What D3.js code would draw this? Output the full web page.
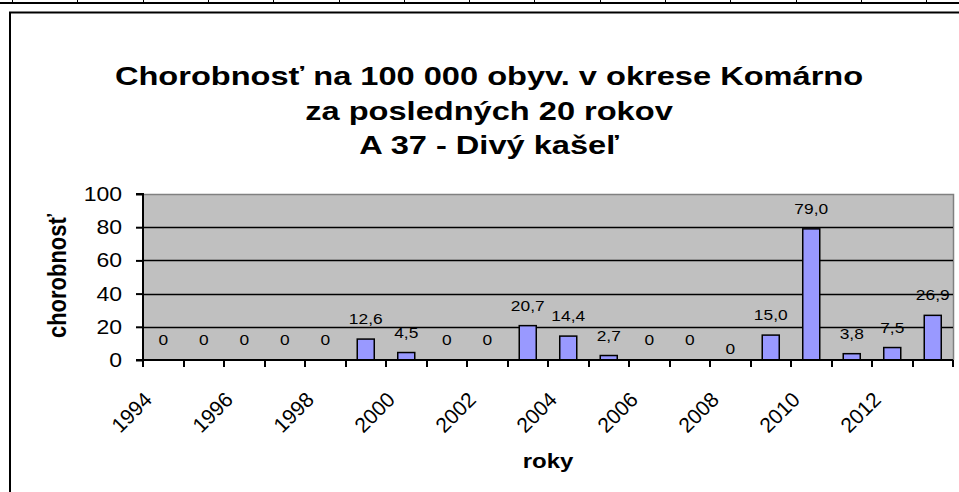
<!DOCTYPE html>
<html>
<head>
<meta charset="utf-8">
<script src="https://cdn.jsdelivr.net/npm/d3@7"></script>
<style>
  html, body { margin: 0; padding: 0; background: #fff; }
  svg { display: block; font-family: "Liberation Sans", Arial, sans-serif; }
</style>
</head>
<body>
<div id="chart"></div>
<script>
"use strict";

// data
var years = ["1994", "1995", "1996", "1997", "1998", "1999", "2000", "2001", "2002", "2003",
  "2004", "2005", "2006", "2007", "2008", "2009", "2010", "2011", "2012", "2013"];
var values = [0, 0, 0, 0, 0, 12.6, 4.5, 0, 0, 20.7, 14.4, 2.7, 0, 0, 0, 15.0, 79.0, 3.8, 7.5, 26.9];
var yTicks = [0, 20, 40, 60, 80, 100];
var titleLines = ["Chorobnosť na 100 000 obyv. v okrese Komárno", "za posledných 20 rokov", "A 37 - Divý kašeľ"];
var xTitle = "roky";
var yTitle = "chorobnosť";

var width = 959, height = 492;
var plot = { left: 143, right: 953, top: 194, bottom: 360 };
var SX = 1.2; // the source picture is stretched sideways

var svg = d3.select("#chart").append("svg")
  .attr("width", width)
  .attr("height", height);

function place(x, y, rot, sx) {
  return "translate(" + x + "," + y + ") scale(" + (sx || SX) + ",1)" + (rot ? " rotate(" + rot + ")" : "");
}

// spreadsheet cell lines peeking above the chart
svg.append("line")
  .attr("x1", 0).attr("x2", width).attr("y1", 3).attr("y2", 3)
  .attr("stroke", "#000").attr("stroke-width", 2);
svg.selectAll(".cell")
  .data(d3.range(12, width, 65.3))
  .join("line")
  .attr("class", "cell")
  .attr("x1", function (d) { return Math.round(d) + 0.5; })
  .attr("x2", function (d) { return Math.round(d) + 0.5; })
  .attr("y1", 0).attr("y2", 3)
  .attr("stroke", "#000");

// chart frame (runs off the right and bottom)
svg.append("path")
  .attr("d", "M10,492 V12.5 H959")
  .attr("fill", "none")
  .attr("stroke", "#000")
  .attr("stroke-width", 2);

var x = d3.scaleBand()
  .domain(years)
  .range([plot.left, plot.right])
  .paddingInner(0.58)
  .paddingOuter(0.29);

var xCat = d3.scaleBand().domain(years).range([plot.left, plot.right]);

var y = d3.scaleLinear()
  .domain([0, 100])
  .range([plot.bottom, plot.top]);

// plot background
svg.append("rect")
  .attr("x", plot.left).attr("y", plot.top)
  .attr("width", plot.right - plot.left).attr("height", plot.bottom - plot.top)
  .attr("fill", "#c0c0c0");

svg.append("path")
  .attr("d", "M" + plot.left + "," + (plot.top + 0.5) + " H" + (plot.right + 0.5) + " V" + plot.bottom)
  .attr("fill", "none")
  .attr("stroke", "#808080")
  .attr("stroke-width", 1.5);

// gridlines
svg.selectAll(".grid")
  .data(yTicks.filter(function (d) { return d > 0 && d < 100; }))
  .join("line")
  .attr("class", "grid")
  .attr("x1", plot.left).attr("x2", plot.right)
  .attr("y1", function (d) { return Math.round(y(d)) + 0.5; })
  .attr("y2", function (d) { return Math.round(y(d)) + 0.5; })
  .attr("stroke", "#000")
  .attr("stroke-width", 1.5);

// bars
svg.selectAll(".bar")
  .data(values)
  .join("rect")
  .attr("class", "bar")
  .attr("x", function (d, i) { return x(years[i]); })
  .attr("y", function (d) { return y(d); })
  .attr("width", x.bandwidth())
  .attr("height", function (d) { return y(0) - y(d); })
  .attr("fill", "#9999ff")
  .attr("stroke", "#000")
  .attr("stroke-width", 1.5)
  .attr("visibility", function (d) { return d > 0 ? "visible" : "hidden"; });

// value labels (Slovak decimal comma)
var fmt = function (d) { return d === 0 ? "0" : d.toFixed(1).replace(".", ","); };
var labelDrop = { "2008": 9 };
svg.selectAll(".val")
  .data(values)
  .join("text")
  .attr("class", "val")
  .attr("transform", function (d, i) {
    return place(xCat(years[i]) + xCat.bandwidth() / 2, y(d) - 15 + (labelDrop[years[i]] || 0), 0, 1.12);
  })
  .attr("text-anchor", "middle")
  .attr("font-size", 15.5)
  .attr("fill", "#000")
  .text(fmt);

// y axis
var yAxis = svg.append("g")
  .attr("transform", "translate(" + plot.left + ",0)")
  .call(d3.axisLeft(y).tickValues(yTicks).tickSize(7).tickPadding(14));
yAxis.select(".domain").attr("stroke-width", 2).attr("d", "M-7," + plot.bottom + "H0V" + plot.top + "H-7");
yAxis.selectAll(".tick line").attr("stroke-width", 2);
yAxis.selectAll("text")
  .attr("x", null)
  .attr("transform", "translate(-21,0) scale(1.15,1)")
  .attr("font-size", 20)
  .attr("font-family", "Liberation Sans, Arial, sans-serif")
  .attr("fill", "#000");

// x axis: ticks at category boundaries
var xAxis = svg.append("g")
  .attr("transform", "translate(0," + plot.bottom + ")");
xAxis.append("line")
  .attr("x1", plot.left - 7).attr("x2", plot.right)
  .attr("stroke", "#000").attr("stroke-width", 2);
xAxis.selectAll(".xt")
  .data(years.concat(["end"]))
  .join("line")
  .attr("class", "xt")
  .attr("x1", function (d, i) { return Math.round(plot.left + i * xCat.step()); })
  .attr("x2", function (d, i) { return Math.round(plot.left + i * xCat.step()); })
  .attr("y1", 0).attr("y2", 7)
  .attr("stroke", "#000").attr("stroke-width", 2);

xAxis.selectAll(".xl")
  .data(years.filter(function (d, i) { return i % 2 === 0; }))
  .join("text")
  .attr("class", "xl")
  .attr("text-anchor", "end")
  .attr("font-size", 21)
  .attr("transform", function (d) {
    return "translate(" + (xCat(d) + xCat.bandwidth() / 2 - 10) + ",41) rotate(-45)";
  })
  .text(function (d) { return d; });

// axis titles
svg.append("text")
  .attr("transform", place((plot.left + plot.right) / 2, 468))
  .attr("text-anchor", "middle")
  .attr("font-size", 20)
  .attr("font-weight", "bold")
  .text(xTitle);

svg.append("text")
  .attr("transform", place(66, 276, -90))
  .attr("text-anchor", "middle")
  .attr("font-size", 22)
  .attr("font-weight", "bold")
  .text(yTitle);

// title
svg.selectAll(".title")
  .data(titleLines)
  .join("text")
  .attr("class", "title")
  .attr("transform", function (d, i) { return place(489, 85 + i * 34.5, 0, 1.23); })
  .attr("text-anchor", "middle")
  .attr("font-size", 26.5)
  .attr("font-weight", "bold")
  .text(function (d) { return d; });
</script>
</body>
</html>
